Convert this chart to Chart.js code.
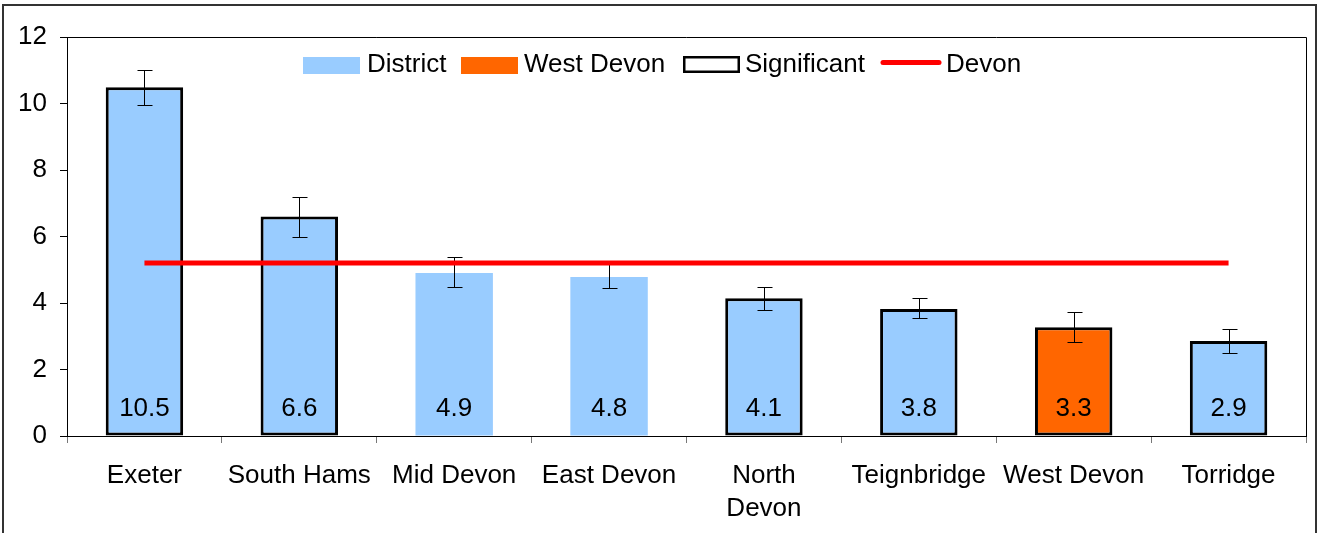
<!DOCTYPE html>
<html>
<head>
<meta charset="utf-8">
<script src="https://cdn.jsdelivr.net/npm/chart.js@4.4.1/dist/chart.umd.min.js"></script>
<style>
  html, body { margin: 0; padding: 0; background: #fff; }
  #wrap { position: relative; width: 1319px; height: 533px; overflow: hidden; }
  #frame { position: absolute; left: 2px; top: 4px; width: 1311px; height: 600px; border: 2px solid #333; border-bottom: none; pointer-events: none; }
</style>
</head>
<body>
<div id="wrap">
  <canvas id="chart" width="1319" height="533"></canvas>
  <div id="frame"></div>
</div>
<script>
// data
var districts = ['Exeter', 'South Hams', 'Mid Devon', 'East Devon', ['North', 'Devon'], 'Teignbridge', 'West Devon', 'Torridge'];
var rates = [10.49, 6.6, 4.9, 4.78, 4.14, 3.82, 3.27, 2.86];
var lowerCI = [9.95, 5.98, 4.47, 4.44, 3.79, 3.55, 2.84, 2.50];
var upperCI = [11.0, 7.19, 5.37, 5.17, 4.48, 4.15, 3.72, 3.23];
var significant = [true, true, false, false, true, true, true, true];
var devonRate = [5.2, 5.2, 5.2, 5.2, 5.2, 5.2, 5.2, 5.2];
var highlight = 'West Devon';
var legendLabels = ['District', 'West Devon', 'Significant', 'Devon'];
var yTicks = [0, 2, 4, 6, 8, 10, 12];

var BLUE = '#99CCFF', ORANGE = '#FF6600', RED = '#FF0000';
var FONT = '"Liberation Sans", Arial, sans-serif';

Chart.defaults.font.family = FONT;
Chart.defaults.color = '#000';

var barColours = districts.map(function(d) { return d === highlight ? ORANGE : BLUE; });
var barBorders = significant.map(function(s) { return s ? 3 : 0; });

var errorBars = {
    id: 'errorBars',
    afterDatasetDraw: function(chart, args) {
        if (args.index !== 0) return;
        var ctx = chart.ctx, y = chart.scales.y;
        ctx.save();
        ctx.strokeStyle = '#000';
        ctx.lineWidth = 1;
        args.meta.data.forEach(function(bar, i) {
            var x = Math.round(bar.x) + 0.5;
            var yHi = Math.round(y.getPixelForValue(upperCI[i])) + 0.5;
            var yLo = Math.round(y.getPixelForValue(lowerCI[i])) + 0.5;
            ctx.beginPath();
            ctx.moveTo(x, yHi); ctx.lineTo(x, yLo);
            ctx.moveTo(x - 7, yHi); ctx.lineTo(x + 8, yHi);
            ctx.moveTo(x - 7, yLo); ctx.lineTo(x + 8, yLo);
            ctx.stroke();
        });
        ctx.restore();
    }
};

var valueLabels = {
    id: 'valueLabels',
    afterDatasetsDraw: function(chart) {
        var ctx = chart.ctx, y = chart.scales.y;
        var meta = chart.getDatasetMeta(0);
        ctx.save();
        ctx.font = '26px ' + FONT;
        ctx.fillStyle = '#000';
        ctx.textAlign = 'center';
        ctx.textBaseline = 'middle';
        meta.data.forEach(function(bar, i) {
            ctx.fillText(rates[i].toFixed(1), bar.x, y.getPixelForValue(0) - 27);
        });
        ctx.restore();
    }
};

// box around plot area (top and right sides)
var plotFrame = {
    id: 'plotFrame',
    beforeDatasetsDraw: function(chart) {
        var a = chart.chartArea, ctx = chart.ctx;
        ctx.save();
        ctx.strokeStyle = '#000';
        ctx.lineWidth = 1;
        ctx.beginPath();
        ctx.moveTo(a.left, a.top + 0.5);
        ctx.lineTo(a.right + 0.5, a.top + 0.5);
        ctx.lineTo(a.right + 0.5, a.bottom);
        ctx.stroke();
        ctx.restore();
    }
};

// legend laid out like the original (inside the plot, left of centre)
var customLegend = {
    id: 'customLegend',
    afterDraw: function(chart) {
        var ctx = chart.ctx;
        var items = [
            {x: 303, tx: 367, kind: 'box', fill: BLUE},
            {x: 461, tx: 524, kind: 'box', fill: ORANGE},
            {x: 683, tx: 745, kind: 'outline'},
            {x: 881, tx: 946, kind: 'line'}
        ];
        ctx.save();
        items.forEach(function(it, i) {
            if (it.kind === 'box') {
                ctx.fillStyle = it.fill;
                ctx.fillRect(it.x, 57, 57, 17);
            } else if (it.kind === 'outline') {
                ctx.fillStyle = '#fff';
                ctx.fillRect(it.x, 56, 57, 17);
                ctx.strokeStyle = '#000';
                ctx.lineWidth = 2.5;
                ctx.strokeRect(it.x + 1.25, 57.25, 54.5, 14.5);
            } else {
                ctx.strokeStyle = RED;
                ctx.lineWidth = 5;
                ctx.lineCap = 'round';
                ctx.beginPath();
                ctx.moveTo(it.x + 2, 62.5);
                ctx.lineTo(it.x + 58, 62.5);
                ctx.stroke();
            }
            ctx.font = '26px ' + FONT;
            ctx.fillStyle = '#000';
            ctx.textBaseline = 'middle';
            ctx.fillText(legendLabels[i], it.tx, 65);
        });
        ctx.restore();
    }
};

var chart = new Chart(document.getElementById('chart'), {
    type: 'bar',
    data: {
        labels: districts,
        datasets: [{
            type: 'bar',
            label: legendLabels[0],
            data: rates,
            backgroundColor: barColours,
            borderColor: '#000',
            borderWidth: barBorders,
            borderSkipped: false,
            categoryPercentage: 1,
            barPercentage: 0.5,
            order: 1
        }, {
            type: 'line',
            label: legendLabels[3],
            data: devonRate,
            borderColor: RED,
            borderWidth: 5,
            pointRadius: 0,
            fill: false,
            order: 0
        }]
    },
    options: {
        responsive: false,
        animation: false,
        events: [],
        layout: { padding: { top: 37, right: 13, left: 0, bottom: 0 } },
        plugins: {
            legend: { display: false },
            tooltip: { enabled: false }
        },
        scales: {
            x: {
                offset: true,
                grid: { offset: true, drawOnChartArea: false, tickLength: 7, color: '#777' },
                border: { color: '#000' },
                ticks: { color: '#000', font: { size: 26, lineHeight: 1.27 }, padding: 16, maxRotation: 0, autoSkip: false },
                afterFit: function(s) { s.height = 97; }
            },
            y: {
                min: 0,
                max: 12,
                afterBuildTicks: function(s) { s.ticks = yTicks.map(function(v) { return {value: v}; }); },
                ticks: { color: '#000', font: { size: 26 }, padding: 13 },
                grid: { drawOnChartArea: false, tickLength: 7, color: '#000' },
                border: { color: '#000' },
                afterFit: function(s) { s.width = 67; }
            }
        }
    },
    plugins: [plotFrame, errorBars, valueLabels, customLegend]
});
</script>
</body>
</html>
